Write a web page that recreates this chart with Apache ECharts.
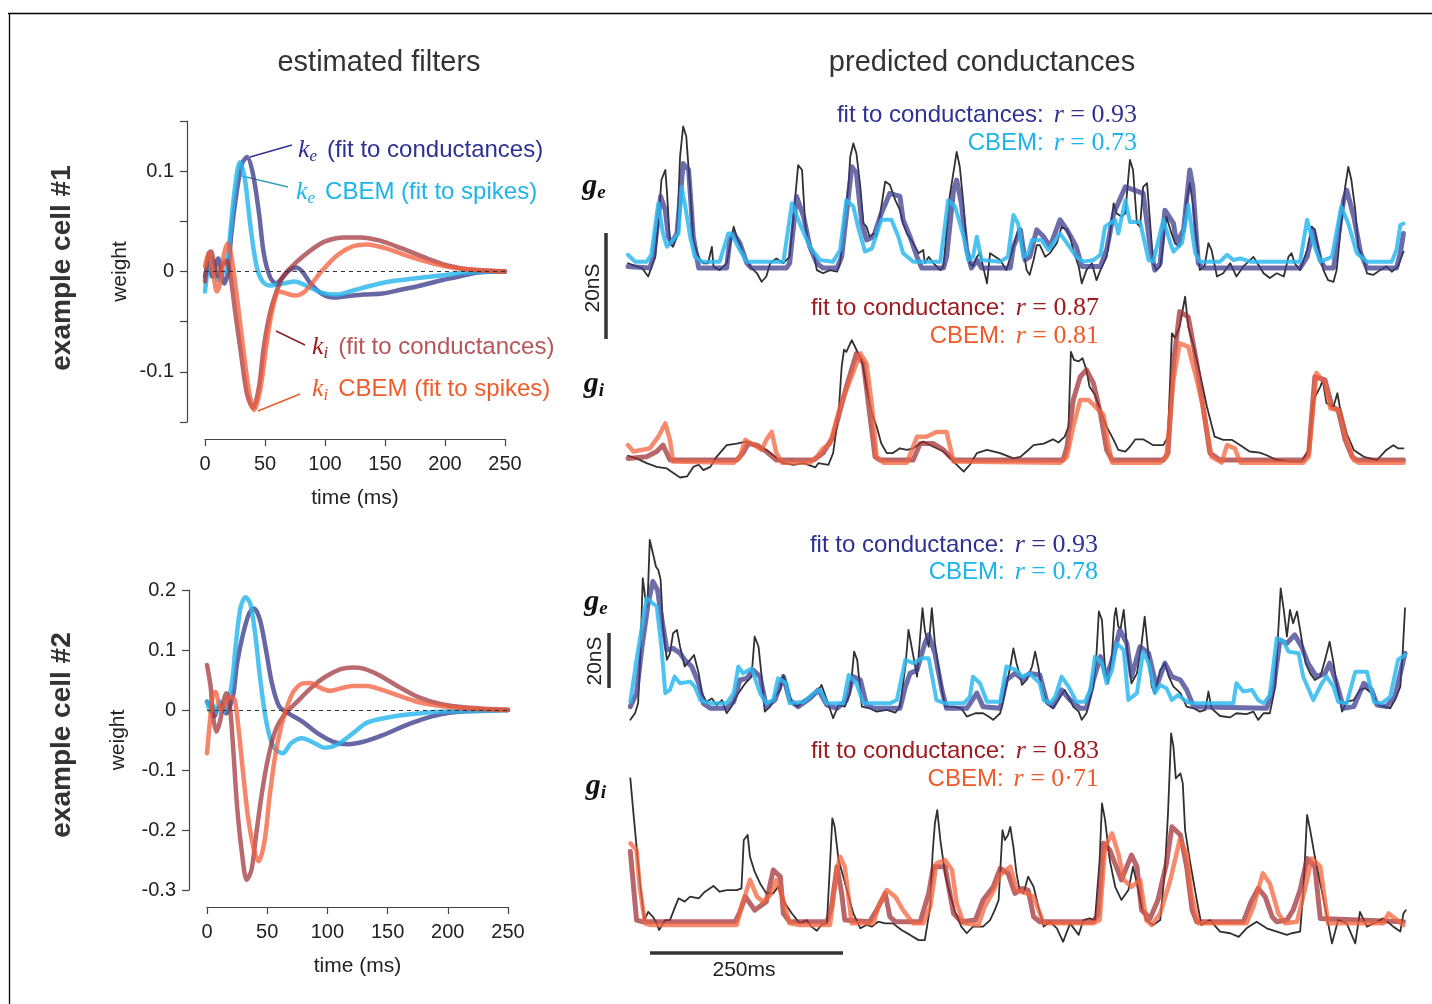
<!DOCTYPE html>
<html>
<head>
<meta charset="utf-8">
<script src="https://cdn.jsdelivr.net/npm/echarts@6/dist/echarts.min.js"></script>
<style>
  html, body { margin: 0; padding: 0; background: #fff; }
  #main { width: 1432px; height: 1004px; }
</style>
</head>
<body>
<div id="main"></div>
<script>
// ---- estimated filters, cell #1 (time ms, weight) ----
var kE1Fit = [[0,-0.005],[3,0.008],[6,-0.005],[11,0.013],[16,-0.012],[19,-0.002],[22,0.038],[27,0.084],[31,0.108],[35,0.114],[40,0.097],[45,0.058],[49,0.018],[54,-0.005],[59,-0.012],[64,-0.007],[70,0.001],[76,0.004],[81,0],[88,-0.012],[97,-0.022],[107,-0.026],[116,-0.025],[132,-0.023],[148,-0.022],[164,-0.018],[180,-0.014],[196,-0.009],[212,-0.005],[228,-0.001],[250,0]];
var kE1Cbem = [[0,-0.020],[3,0.008],[5,0.013],[8,0.001],[11,-0.009],[14,-0.002],[18,0.001],[21,0.038],[25,0.084],[29,0.109],[33,0.094],[38,0.044],[43,0.005],[48,-0.010],[54,-0.014],[65,-0.012],[75,-0.010],[84,-0.014],[97,-0.021],[110,-0.023],[123,-0.019],[139,-0.014],[154,-0.010],[174,-0.007],[196,-0.004],[218,-0.001],[250,0]];
var kI1Fit = [[0,-0.010],[3,0.018],[5,0.020],[8,0.005],[11,-0.005],[14,0.005],[18,0.011],[21,-0.002],[25,-0.039],[30,-0.082],[35,-0.122],[40,-0.136],[45,-0.115],[49,-0.075],[54,-0.042],[59,-0.022],[65,-0.005],[75,0.008],[88,0.021],[100,0.030],[116,0.034],[129,0.034],[145,0.031],[164,0.023],[183,0.014],[202,0.006],[221,0.002],[250,0]];
var kI1Cbem = [[0,0.005],[3,0.018],[6,0.005],[10,-0.020],[13,-0.009],[16,0.018],[19,0.028],[22,0.015],[27,-0.029],[32,-0.078],[37,-0.122],[41,-0.138],[46,-0.118],[51,-0.075],[56,-0.039],[62,-0.020],[68,-0.022],[75,-0.024],[84,-0.019],[97,0],[110,0.016],[123,0.025],[135,0.027],[151,0.023],[170,0.015],[190,0.008],[212,0.003],[250,0]];

// ---- estimated filters, cell #2 ----
var kE2Fit = [[0,0.014],[3,0.006],[6,-0.011],[10,0.006],[13,0.006],[16,-0.006],[19,0.006],[22,0.028],[25,0.078],[30,0.127],[35,0.161],[39,0.169],[44,0.150],[49,0.100],[54,0.044],[60,0.006],[68,-0.006],[79,-0.019],[92,-0.039],[105,-0.053],[117,-0.057],[130,-0.053],[146,-0.042],[162,-0.028],[178,-0.016],[194,-0.007],[209,-0.003],[250,0]];
var kE2Cbem = [[0,0.014],[3,-0.003],[5,0.008],[8,-0.003],[11,0.014],[14,-0.003],[17,0.008],[21,0.050],[24,0.111],[28,0.172],[32,0.188],[36,0.177],[40,0.127],[44,0.055],[49,-0.017],[55,-0.061],[63,-0.072],[70,-0.055],[79,-0.047],[89,-0.055],[98,-0.063],[108,-0.058],[121,-0.039],[133,-0.021],[149,-0.013],[165,-0.008],[184,-0.004],[209,-0.002],[250,0]];
var kI2Fit = [[0,0.075],[3,0.039],[5,-0.011],[8,-0.036],[11,-0.017],[14,0.017],[16,0.028],[19,0.006],[22,-0.072],[25,-0.161],[29,-0.238],[33,-0.283],[37,-0.266],[41,-0.205],[46,-0.133],[51,-0.078],[57,-0.033],[65,-0.006],[75,0.014],[86,0.036],[98,0.055],[111,0.068],[121,0.071],[130,0.069],[143,0.058],[159,0.039],[175,0.022],[194,0.010],[216,0.004],[250,0]];
var kI2Cbem = [[0,-0.072],[2,-0.028],[5,0.028],[7,0.030],[10,0.008],[12,0],[16,0.014],[19,0.022],[23,0.017],[26,-0.028],[30,-0.105],[34,-0.177],[39,-0.233],[43,-0.252],[48,-0.216],[52,-0.144],[57,-0.072],[63,-0.017],[71,0.028],[79,0.044],[86,0.045],[92,0.039],[102,0.032],[111,0.036],[121,0.040],[133,0.040],[146,0.033],[162,0.022],[178,0.012],[197,0.006],[219,0.002],[250,0]];

// ---- predicted conductances, cell #1 (time ms, nS) ----
var ge1Rec = [[0,0.9],[11,0.3],[18,0],[26,-1.6],[35,2.1],[39,8.4],[43,16.6],[48,18.5],[50,14.7],[54,4.7],[58,4.0],[63,5.9],[67,21.0],[71,26.7],[75,24.8],[80,14.7],[84,5.3],[88,3.4],[93,1.5],[97,0.9],[103,0.9],[108,4.0],[110,0.3],[118,-0.4],[127,0.9],[136,7.8],[140,5.9],[148,2.8],[157,0.3],[166,-1.0],[172,-2.6],[178,-1.6],[183,0.9],[191,1.8],[200,0.9],[208,2.1],[213,9.7],[219,19.4],[224,18.5],[228,8.4],[232,4.7],[239,2.8],[243,-0.4],[251,-1.0],[260,-0.4],[269,-0.7],[273,0.9],[277,6.5],[284,16.0],[286,21.0],[290,23.5],[294,21.6],[299,15.3],[303,8.4],[307,7.8],[311,5.9],[316,6.5],[320,5.9],[326,11.6],[331,16.3],[337,15.7],[344,12.8],[350,10.9],[354,8.4],[359,6.5],[367,4.7],[374,2.8],[380,3.4],[382,0.9],[387,2.1],[393,0.9],[402,-0.4],[406,0.3],[414,13.5],[423,21.9],[427,19.1],[432,11.6],[436,4.0],[440,0.9],[444,0.3],[449,2.1],[453,2.8],[462,-2.9],[466,2.8],[479,1.5],[487,-0.4],[496,4.0],[502,7.2],[507,5.3],[513,-0.4],[517,-1.3],[522,1.5],[526,4.3],[530,4.3],[537,2.1],[543,2.8],[552,4.7],[558,7.8],[565,7.2],[569,5.9],[573,3.4],[580,0.3],[584,-2.9],[590,-0.4],[597,0.9],[603,-2.3],[608,-0.4],[616,2.1],[620,5.9],[625,12.2],[629,10.3],[635,9.7],[640,10.3],[644,17.2],[646,20.4],[650,18.5],[655,8.4],[659,7.8],[663,15.3],[668,16.0],[672,8.4],[676,0.9],[680,-0.4],[685,0.3],[689,4.7],[693,9.7],[698,7.2],[704,4.7],[710,4.0],[715,7.2],[719,12.8],[723,16.0],[727,12.2],[732,4.7],[736,-0.4],[742,0.3],[747,4.7],[751,3.4],[758,-1.6],[766,-1.0],[775,0.9],[783,-1.6],[792,0.3],[805,2.1],[818,-1.0],[826,-1.9],[835,-1.0],[844,-1.6],[850,2.1],[854,2.8],[858,0.9],[865,-0.4],[874,3.4],[880,7.8],[884,7.2],[889,3.4],[895,-0.4],[901,-2.3],[908,-2.6],[912,-0.4],[918,8.4],[923,15.3],[927,19.1],[931,16.6],[936,10.9],[940,4.0],[947,1.5],[951,-1.0],[959,-1.3],[968,-0.4],[976,0.3],[983,-0.7],[991,0.3],[998,3.1]];
var ge1Fit = [[0,0.3],[28,0],[33,2.1],[42,13.5],[48,10.9],[52,5.9],[56,4.7],[63,6.5],[71,19.7],[78,18.5],[84,5.9],[91,0],[127,0],[131,5.3],[136,6.5],[144,4.7],[153,0.9],[159,0],[204,0],[208,0.9],[217,13.5],[226,9.7],[234,4.0],[243,0.9],[251,0],[269,0],[275,2.1],[288,19.1],[294,17.9],[301,8.4],[307,5.3],[316,5.9],[326,10.3],[337,14.1],[350,13.5],[354,9.1],[363,5.9],[372,2.1],[378,0],[406,0],[410,2.1],[419,14.7],[423,16.6],[429,12.2],[436,3.4],[442,0],[449,1.5],[455,0],[492,0],[496,4.0],[505,7.2],[511,1.5],[517,2.1],[526,7.2],[535,5.9],[543,4.0],[556,9.1],[565,7.2],[577,4.0],[584,0.3],[608,0.3],[616,3.4],[625,10.3],[640,15.3],[663,14.1],[672,4.0],[678,-0.4],[685,0.9],[691,10.9],[702,8.4],[706,4.7],[715,7.2],[723,18.5],[727,15.3],[734,0.9],[740,0],[865,0],[874,2.1],[882,7.2],[891,1.5],[897,0],[908,0],[921,12.8],[925,14.7],[934,9.7],[943,2.8],[951,0],[989,0],[994,2.8],[998,6.5]];
var ge1Cbem = [[0,2.5],[9,1.2],[24,1.2],[30,2.5],[39,12.2],[45,6.5],[50,4.0],[58,5.3],[65,6.5],[69,15.3],[73,12.2],[80,5.9],[86,2.1],[95,1.2],[118,1.2],[129,6.5],[133,6.5],[144,3.4],[153,1.2],[200,1.2],[211,12.2],[221,8.4],[234,4.0],[247,1.5],[264,1.2],[273,3.4],[281,12.8],[290,11.6],[296,7.8],[305,3.1],[314,3.7],[326,9.1],[339,9.1],[348,5.9],[354,2.8],[367,1.2],[402,1.2],[412,12.8],[421,11.6],[432,5.9],[438,1.5],[444,2.1],[449,5.9],[455,1.5],[479,1.2],[489,2.1],[496,10.0],[502,8.4],[509,2.1],[515,2.8],[520,5.3],[532,5.3],[541,3.4],[556,6.5],[565,4.7],[577,2.1],[586,1.2],[599,1.5],[608,2.5],[614,7.8],[627,9.1],[631,6.5],[640,12.8],[646,8.7],[659,8.7],[670,1.5],[676,1.2],[689,9.1],[698,4.7],[702,3.1],[713,4.7],[721,11.9],[730,2.8],[736,1.2],[762,1.2],[771,2.5],[779,1.5],[788,1.8],[801,1.2],[865,1.2],[874,9.1],[882,4.7],[891,1.2],[906,2.1],[918,11.6],[927,8.4],[938,2.8],[951,1.2],[983,1.2],[989,3.4],[994,8.1],[998,8.4]];
var gi1Rec = [[0,0.8],[11,0.3],[24,-0.6],[37,-1.3],[50,-1.6],[56,-2.2],[67,-3.3],[76,-3.1],[84,-1.3],[91,-0.9],[97,-1.9],[106,-1.3],[114,0.6],[127,2.8],[140,3.1],[153,3.5],[166,2.5],[178,1.9],[187,0.9],[200,-0.6],[213,-0.9],[226,-0.6],[241,-1.4],[245,-0.6],[258,-0.9],[264,1.3],[271,8.8],[275,17.6],[278,20.8],[281,20.4],[288,22.6],[294,20.8],[301,18.9],[307,13.8],[314,8.8],[320,6.3],[326,3.1],[333,1.3],[341,1.3],[350,2.2],[359,1.9],[367,2.2],[380,3.5],[393,2.5],[406,1.6],[419,-0.3],[432,-2.2],[440,-0.9],[449,1.3],[462,1.9],[479,1.3],[496,0.3],[505,0.6],[513,1.6],[522,2.8],[535,3.1],[547,3.9],[554,3.3],[562,4.4],[567,6.3],[570,20.4],[574,18.9],[580,18.6],[585,19.2],[590,17.0],[594,13.8],[601,12.3],[608,9.4],[616,6.3],[625,3.8],[631,1.9],[640,1.6],[646,2.5],[653,3.9],[663,3.9],[676,2.8],[689,2.8],[695,4.4],[700,23.9],[704,23.0],[710,25.2],[717,30.8],[721,25.2],[728,21.4],[736,16.4],[745,10.1],[755,4.4],[766,3.8],[777,3.8],[788,2.8],[800,1.6],[813,1.4],[822,0.9],[835,0],[853,-0.3],[867,-0.3],[876,1.9],[882,11.3],[891,13.8],[894,15.1],[899,10.7],[908,10.1],[913,12.6],[916,10.1],[925,5.0],[934,1.9],[947,0.6],[964,0],[976,1.9],[985,2.8],[991,2.2],[998,2.2]];
var gi1Fit = [[0,0.3],[24,0.6],[37,1.6],[45,2.8],[54,0],[140,0],[148,1.3],[155,3.1],[166,2.8],[178,1.6],[191,0],[239,0],[251,1.3],[264,4.4],[281,13.8],[294,20.1],[303,18.2],[311,8.8],[318,0.6],[324,0],[367,0],[376,3.1],[393,3.1],[406,1.9],[419,0],[560,0],[565,2.5],[573,11.3],[582,15.7],[590,17.0],[599,14.5],[608,8.8],[616,1.9],[623,0],[689,0],[695,1.3],[702,18.2],[710,28.0],[721,27.0],[732,18.2],[740,10.1],[749,1.3],[762,0],[869,0],[876,1.3],[884,15.7],[897,15.1],[906,10.1],[914,9.4],[923,3.8],[932,0.6],[938,0],[998,0]];
var gi1Cbem = [[0,2.8],[7,1.6],[28,2.2],[39,4.4],[48,6.9],[54,3.8],[58,-0.3],[136,-0.5],[144,0.6],[151,3.8],[159,3.1],[172,1.9],[178,3.8],[185,5.3],[191,1.3],[198,-0.5],[234,-0.5],[243,0.6],[251,2.2],[260,3.1],[273,10.1],[286,15.1],[299,20.1],[307,18.2],[314,10.1],[320,0.6],[329,-0.5],[359,-0.5],[372,4.4],[384,4.4],[397,5.3],[410,5.3],[419,-0.3],[556,-0.5],[565,0.6],[573,6.3],[582,11.3],[593,11.3],[612,8.5],[618,3.1],[623,-0.5],[685,-0.5],[693,0.6],[702,15.1],[710,22.0],[721,21.4],[732,15.1],[740,10.1],[751,0.6],[764,-0.5],[771,2.8],[781,2.2],[788,-0.5],[869,-0.5],[876,0.6],[886,16.4],[897,14.5],[904,9.7],[916,9.4],[925,3.8],[934,0],[940,-0.5],[998,-0.5]];

// ---- predicted conductances, cell #2 ----
var ge2Rec = [[3,-4.2],[9,-1.8],[13,1.8],[16,20.0],[19,47.3],[22,40.6],[25,37.0],[28,61.2],[33,55.2],[36,51.5],[39,50.3],[42,46.7],[45,29.7],[50,17.6],[54,20.0],[58,27.3],[63,28.5],[67,22.4],[73,15.2],[80,17.6],[85,19.4],[91,12.7],[95,5.5],[101,2.4],[108,3.6],[114,1.2],[121,3.0],[127,-1.8],[133,0.6],[142,5.5],[151,9.1],[159,11.5],[163,26.1],[168,22.4],[172,11.5],[176,-1.2],[183,0.6],[189,4.2],[196,6.7],[200,12.1],[204,9.1],[211,1.8],[219,0.6],[226,3.0],[234,4.2],[243,5.5],[249,8.5],[256,3.0],[264,-3.6],[271,1.2],[279,0.6],[286,5.5],[291,20.6],[295,17.6],[301,0.6],[311,0],[320,-1.2],[333,-0.6],[344,-1.6],[350,0.6],[357,15.2],[361,28.5],[365,22.4],[372,11.5],[376,26.1],[379,36.4],[382,28.5],[387,22.4],[391,36.4],[395,23.6],[402,10.3],[408,0.6],[419,0.6],[429,0],[436,-3.0],[447,-1.8],[457,-1.8],[464,-3.0],[470,-4.2],[479,-1.8],[485,5.5],[492,15.2],[496,21.8],[500,16.4],[505,11.5],[507,8.5],[513,10.3],[520,15.2],[524,20.6],[528,15.2],[532,7.9],[539,1.8],[547,0],[554,3.0],[562,6.7],[567,4.2],[573,0.6],[580,-1.2],[584,-4.2],[590,-1.8],[599,7.9],[603,20.0],[606,35.2],[610,32.1],[614,13.9],[618,9.1],[623,20.0],[626,33.3],[628,36.4],[631,29.7],[634,29.1],[638,35.8],[643,20.0],[648,9.1],[655,12.7],[661,23.6],[665,33.3],[668,24.8],[674,7.9],[678,5.5],[685,13.9],[691,16.4],[696,11.5],[702,7.9],[711,5.5],[719,0.6],[728,0],[736,-1.2],[743,-0.6],[747,6.1],[751,0],[762,-2.8],[775,-3.3],[783,-1.8],[796,-2.1],[805,-1.2],[811,-4.2],[818,-1.8],[826,-1.8],[833,7.9],[837,28.5],[840,43.6],[844,35.8],[848,26.1],[852,35.8],[856,30.9],[861,35.2],[865,28.5],[872,16.4],[878,12.7],[884,10.3],[891,11.5],[897,17.6],[903,24.2],[908,16.4],[912,9.1],[919,-1.2],[925,2.4],[934,3.0],[942,6.7],[949,7.3],[957,5.5],[966,1.2],[974,0.6],[981,0],[987,3.0],[994,7.9],[997,20.0],[1000,36.4]];
var ge2Fit = [[3,0.6],[11,5.5],[18,22.4],[26,38.2],[32,46.1],[38,43.0],[43,33.3],[50,21.2],[58,21.8],[67,20.0],[73,17.6],[82,15.2],[91,9.1],[97,1.8],[106,0],[127,0],[136,2.4],[144,10.3],[153,10.9],[161,13.9],[170,11.5],[178,0.6],[189,3.0],[200,11.5],[208,3.0],[219,0.6],[234,3.6],[245,6.7],[256,1.2],[269,0],[281,3.0],[290,11.5],[299,10.3],[307,1.2],[316,0],[350,0],[357,7.9],[363,12.7],[372,13.9],[382,23.6],[387,26.7],[395,20.0],[404,6.7],[410,0],[436,0],[449,5.5],[457,0.6],[479,0],[487,10.3],[498,12.7],[509,10.3],[517,12.7],[530,12.1],[539,2.4],[547,0.6],[558,6.7],[569,3.0],[582,0],[590,0],[599,10.3],[608,18.8],[616,11.5],[623,17.6],[633,28.5],[642,23.6],[648,11.5],[659,22.4],[670,20.0],[680,7.9],[691,16.4],[700,11.5],[711,10.3],[719,6.7],[728,0.6],[822,0],[831,7.9],[839,24.8],[848,23.6],[858,26.7],[867,22.4],[875,16.4],[886,11.5],[897,12.7],[903,16.4],[912,9.1],[921,0],[934,0.6],[947,9.1],[957,6.7],[964,1.2],[976,0.6],[987,4.2],[994,12.7],[1000,20.0]];
var ge2Cbem = [[3,2.4],[11,17.6],[20,33.3],[24,40.0],[37,37.0],[43,22.4],[48,5.5],[54,6.7],[60,11.5],[67,9.1],[80,9.7],[86,7.9],[93,3.0],[106,1.8],[127,1.8],[136,5.5],[142,15.2],[148,12.7],[159,14.5],[170,5.5],[178,1.8],[187,3.0],[193,10.9],[204,9.1],[208,1.8],[226,2.4],[239,5.5],[247,6.7],[256,1.8],[277,1.8],[284,12.1],[294,9.1],[303,1.8],[337,1.8],[346,3.0],[357,17.6],[367,16.4],[378,18.2],[387,18.2],[397,3.0],[408,1.8],[432,1.8],[440,4.2],[444,11.5],[453,9.1],[462,2.4],[479,2.4],[487,15.2],[500,13.9],[507,11.5],[517,12.7],[530,9.1],[535,3.0],[543,1.8],[550,4.2],[558,11.5],[567,7.9],[577,2.4],[588,2.4],[595,6.7],[601,18.8],[610,16.4],[616,9.1],[623,13.9],[629,23.6],[638,21.2],[644,3.0],[655,5.5],[663,20.6],[670,16.4],[678,5.5],[685,8.5],[693,7.3],[700,3.0],[708,4.8],[719,2.4],[728,1.8],[779,1.8],[783,9.1],[792,6.1],[803,6.7],[811,3.0],[818,1.8],[826,4.8],[835,25.5],[844,24.2],[850,20.6],[863,20.0],[869,11.5],[882,3.0],[893,9.1],[899,11.5],[908,7.9],[914,2.4],[925,1.8],[936,13.3],[951,13.3],[960,2.4],[970,1.8],[981,4.2],[991,17.6],[1000,19.4]];
var gi2Rec = [[3,52.1],[7,39.4],[11,27.3],[16,12.7],[21,0.6],[26,3.6],[32,1.8],[36,0],[40,-3.0],[48,0.6],[54,0.6],[59,4.2],[65,8.5],[73,7.3],[80,9.1],[91,8.5],[99,10.9],[110,13.0],[118,10.9],[127,11.5],[140,11.5],[146,12.1],[149,29.7],[154,31.5],[157,23.6],[163,18.2],[170,13.9],[178,10.3],[187,10.3],[193,12.7],[202,6.7],[211,3.0],[221,-0.6],[230,0.6],[236,-1.8],[243,-3.3],[249,-1.2],[256,-0.6],[260,21.2],[263,37.6],[266,34.5],[271,22.4],[277,16.4],[284,9.1],[290,3.0],[299,-2.4],[307,-1.2],[314,-1.8],[322,0],[331,-0.6],[341,-0.6],[352,-3.0],[363,-4.8],[374,-6.7],[382,-6.7],[389,5.5],[392,24.8],[395,35.8],[398,40.6],[402,29.7],[408,17.6],[414,10.3],[421,3.6],[429,-1.8],[436,-4.2],[444,-1.8],[457,-1.8],[466,0.6],[472,4.2],[477,7.9],[482,33.3],[485,29.7],[489,31.5],[492,34.5],[496,27.3],[500,17.6],[504,11.5],[509,10.3],[515,16.4],[522,12.7],[528,5.5],[535,-1.8],[543,0],[552,-2.4],[560,-7.3],[569,-0.6],[580,-4.8],[586,0.6],[594,1.2],[601,0.6],[607,22.4],[610,43.0],[614,37.0],[620,22.4],[627,12.7],[635,7.9],[644,11.5],[650,20.0],[655,13.9],[661,5.5],[667,0.6],[676,-1.2],[685,0.6],[691,18.8],[695,39.4],[699,68.5],[702,63.6],[705,52.1],[711,53.9],[714,50.3],[717,33.3],[723,22.4],[732,7.9],[738,-1.2],[749,0.6],[762,-3.6],[775,-4.2],[786,-5.5],[796,-2.4],[809,0],[822,-2.4],[835,-3.6],[848,-4.8],[854,-4.2],[865,-3.6],[869,10.3],[874,38.8],[878,33.3],[884,23.6],[891,13.9],[897,5.5],[906,-7.9],[914,0.6],[925,-0.6],[936,-7.9],[942,3.6],[951,-1.8],[964,0],[972,1.2],[985,-1.8],[994,-3.6],[998,3.0],[1001,4.2]];
var gi2Fit = [[3,25.5],[11,0.6],[18,0],[138,0],[144,3.6],[151,9.1],[163,4.2],[178,7.3],[187,18.8],[196,16.4],[200,3.0],[208,0],[256,0],[262,5.5],[269,20.0],[275,10.3],[279,0.6],[311,0],[320,4.2],[331,10.3],[337,1.8],[344,0],[376,0],[387,10.3],[393,20.0],[408,20.0],[419,3.0],[429,0],[447,0.6],[457,7.9],[470,12.7],[479,19.4],[489,17.6],[498,10.3],[507,12.1],[515,11.5],[522,1.8],[530,0],[599,0],[605,3.0],[612,28.5],[620,26.1],[635,15.2],[648,24.2],[655,20.0],[661,4.2],[672,1.2],[682,7.9],[693,21.2],[700,34.5],[711,31.5],[719,20.0],[726,4.2],[732,0],[792,0],[801,6.7],[811,12.1],[820,9.1],[829,1.8],[835,0],[848,0.6],[856,4.2],[865,11.5],[874,23.0],[884,20.0],[891,1.2],[998,0]];
var gi2Cbem = [[3,28.5],[11,26.1],[15,12.7],[22,-0.6],[28,-1.2],[140,-1.2],[146,5.5],[157,15.2],[166,9.1],[174,7.3],[183,9.7],[191,15.2],[200,7.9],[208,-0.6],[221,-1.2],[260,-1.2],[269,18.8],[273,23.6],[279,20.0],[288,-0.6],[316,-0.6],[322,5.5],[333,11.5],[344,9.1],[354,4.2],[367,-0.6],[380,-0.6],[389,5.5],[397,21.2],[408,22.4],[417,18.8],[423,6.7],[432,-0.6],[451,-1.2],[459,5.5],[470,10.9],[479,17.0],[492,20.0],[500,11.5],[513,10.3],[522,9.1],[535,-0.6],[599,-0.6],[607,0.6],[614,27.3],[623,32.1],[631,24.8],[638,15.2],[648,12.7],[659,15.2],[667,0.6],[674,-1.2],[685,3.0],[698,15.2],[710,29.7],[719,24.8],[725,10.3],[734,-0.6],[796,-0.6],[805,5.5],[817,17.6],[826,13.9],[837,3.0],[846,-0.6],[861,0],[871,11.5],[880,23.0],[891,20.0],[901,-0.6],[972,-0.6],[979,3.0],[998,-1.2]];

var corrLabels = ['0.93', '0.73', '0.87', '0.81', '0.93', '0.78', '0.83', '0·71'];

var SANS = 'Liberation Sans, Arial, Helvetica, sans-serif';
var SERIF = 'Liberation Serif, DejaVu Serif, serif';
var C_KE = 'rgba(70,70,145,0.82)';
var C_KEC = 'rgba(40,182,236,0.82)';
var C_KI = 'rgba(158,48,54,0.72)';
var C_KIC = 'rgba(242,92,58,0.75)';

var chart = echarts.init(document.getElementById('main'));

function filterX(g) {
	return {
		gridIndex: g, type: 'value', min: 0, max: 250, interval: 50, offset: 17,
		axisLine: { show: true, onZero: false, lineStyle: { color: '#444', width: 1.2 } },
		axisTick: { show: true, length: 7, lineStyle: { color: '#444', width: 1.2 } },
		axisLabel: { fontSize: 20, color: '#222', margin: 15, fontFamily: SANS },
		splitLine: { show: false },
		name: 'time (ms)', nameLocation: 'middle', nameGap: 49,
		nameTextStyle: { fontSize: 21, color: '#222', fontFamily: SANS }
	};
}
function filterY(g, min, max, step, gap, onlyTenths) {
	return {
		gridIndex: g, type: 'value', min: min, max: max, interval: step, offset: 18,
		axisLine: { show: true, onZero: false, lineStyle: { color: '#444', width: 1.2 } },
		axisTick: { show: true, length: 7, lineStyle: { color: '#444', width: 1.2 } },
		axisLabel: {
			fontSize: 20, color: '#222', margin: 13, fontFamily: SANS,
			formatter: function (v) {
				var r = Math.round(v * 10) / 10;
				if (onlyTenths && Math.abs(v - r) > 1e-6) return '';
				return String(r);
			}
		},
		splitLine: { show: false },
		name: 'weight', nameLocation: 'middle', nameGap: gap, nameRotate: 90,
		nameTextStyle: { fontSize: 21, color: '#222', fontFamily: SANS }
	};
}
function hiddenX(g) {
	return { gridIndex: g, type: 'value', min: 0, max: 1000, show: false };
}
function hiddenY(g, min, max) {
	return { gridIndex: g, type: 'value', min: min, max: max, show: false };
}
function curve(ax, data, color, width, smooth, z) {
	return {
		type: 'line', xAxisIndex: ax, yAxisIndex: ax, data: data,
		showSymbol: false, smooth: smooth, clip: false, z: z || 2,
		lineStyle: { color: color, width: width, join: 'round', cap: 'round' }
	};
}
function zeroLine(s) {
	s.markLine = {
		silent: true, symbol: ['none', 'none'], label: { show: false },
		lineStyle: { color: '#333', width: 1, type: [4, 4] },
		data: [{ yAxis: 0 }]
	};
	return s;
}

// rich text helpers
function kLabel(x, y, sub, txt, color, txtColor) {
	var rich = {
		k: { fontFamily: SERIF, fontStyle: 'italic', fontSize: 26, lineHeight: 30, fill: color, color: color },
		s: { fontFamily: SERIF, fontStyle: 'italic', fontSize: 17, lineHeight: 16, verticalAlign: 'bottom', fill: color, color: color },
		t: { fontFamily: SANS, fontSize: 24, lineHeight: 30, fill: txtColor, color: txtColor }
	};
	return {
		type: 'text', x: x, y: y,
		style: { text: '{k|k}{s|' + sub + '}   {t|' + txt + '}', rich: rich, fill: color,
			align: 'left', verticalAlign: 'middle', textAlign: 'left', textVerticalAlign: 'middle' }
	};
}
function rLabel(x, y, name, val, color) {
	var rich = {
		a: { fontFamily: SANS, fontSize: 24, fill: color, color: color, lineHeight: 28 },
		r: { fontFamily: SERIF, fontStyle: 'italic', fontSize: 26, fill: color, color: color, lineHeight: 28 },
		n: { fontFamily: SERIF, fontSize: 26, fill: color, color: color, lineHeight: 28 }
	};
	return {
		type: 'text', x: x, y: y,
		style: { text: '{a|' + name + '}   {r|r}{n| = ' + val + '}', rich: rich, fill: color,
			align: 'right', verticalAlign: 'middle', textAlign: 'right', textVerticalAlign: 'middle' }
	};
}
function gLabel(x, y, sub) {
	var rich = {
		g: { fontFamily: SERIF, fontStyle: 'italic', fontWeight: 'bold', fontSize: 30, fill: '#111', color: '#111', lineHeight: 34 },
		s: { fontFamily: SERIF, fontStyle: 'italic', fontWeight: 'bold', fontSize: 19, fill: '#111', color: '#111', lineHeight: 18, verticalAlign: 'bottom' }
	};
	return {
		type: 'text', x: x, y: y,
		style: { text: '{g|g}{s|' + sub + '}', rich: rich, align: 'center', verticalAlign: 'middle',
			textAlign: 'center', textVerticalAlign: 'middle' }
	};
}
function plainText(x, y, txt, size, opts) {
	opts = opts || {};
	return {
		type: 'text', x: x, y: y, rotation: opts.rot || 0,
		style: { text: txt, fill: opts.color || '#222', fontSize: size, fontFamily: SANS,
			fontWeight: opts.bold ? 'bold' : 'normal',
			align: 'center', verticalAlign: 'middle', textAlign: 'center', textVerticalAlign: 'middle' }
	};
}
function seg(x1, y1, x2, y2, color, w) {
	return { type: 'line', shape: { x1: x1, y1: y1, x2: x2, y2: y2 }, style: { stroke: color, lineWidth: w } };
}

var option = {
	animation: false,
	backgroundColor: '#fff',
	grid: [
		{ left: 205, top: 121, width: 300, height: 301 },
		{ left: 207, top: 590, width: 301, height: 300 },
		{ left: 628, top: 114.3, width: 777, height: 174.9 },
		{ left: 628, top: 290.4, width: 777, height: 190.8 },
		{ left: 628, top: 532.3, width: 777, height: 192.5 },
		{ left: 628, top: 729.2, width: 777, height: 217.25 }
	],
	xAxis: [filterX(0), filterX(1), hiddenX(2), hiddenX(3), hiddenX(4), hiddenX(5)],
	yAxis: [
		filterY(0, -0.15, 0.15, 0.05, 56, true),
		filterY(1, -0.3, 0.2, 0.1, 60, false),
		hiddenY(2, -4, 29),
		hiddenY(3, -4, 32),
		hiddenY(4, -6, 64),
		hiddenY(5, -9, 70)
	],
	series: [
		zeroLine(curve(0, kE1Fit, C_KE, 4.5, 0.3, 3)),
		curve(0, kE1Cbem, C_KEC, 4.5, 0.3, 3),
		curve(0, kI1Fit, C_KI, 4.5, 0.3, 3),
		curve(0, kI1Cbem, C_KIC, 4.5, 0.3, 3),
		zeroLine(curve(1, kE2Fit, C_KE, 4.5, 0.3, 3)),
		curve(1, kE2Cbem, C_KEC, 4.5, 0.3, 3),
		curve(1, kI2Fit, C_KI, 4.5, 0.3, 3),
		curve(1, kI2Cbem, C_KIC, 4.5, 0.3, 3),

		curve(2, ge1Rec, 'rgba(25,25,25,0.9)', 1.8, false, 2),
		curve(2, ge1Fit, 'rgba(60,60,140,0.75)', 5, false, 3),
		curve(2, ge1Cbem, 'rgba(45,185,238,0.85)', 4, false, 4),
		curve(3, gi1Rec, 'rgba(25,25,25,0.9)', 1.8, false, 2),
		curve(3, gi1Fit, 'rgba(158,45,50,0.72)', 5, false, 3),
		curve(3, gi1Cbem, 'rgba(244,100,62,0.75)', 4.5, false, 4),
		curve(4, ge2Rec, 'rgba(25,25,25,0.9)', 1.8, false, 2),
		curve(4, ge2Fit, 'rgba(60,60,140,0.75)', 5, false, 3),
		curve(4, ge2Cbem, 'rgba(45,185,238,0.85)', 4, false, 4),
		curve(5, gi2Rec, 'rgba(25,25,25,0.9)', 1.8, false, 2),
		curve(5, gi2Fit, 'rgba(158,45,50,0.72)', 5, false, 3),
		curve(5, gi2Cbem, 'rgba(244,100,62,0.75)', 4.5, false, 4)
	],
	graphic: [
		// frame
		seg(8, 13.5, 1432, 13.5, '#000', 1.3),
		seg(9.5, 13, 9.5, 1004, '#000', 1.3),
		// titles
		plainText(379, 63, 'estimated filters', 29, { color: '#333' }),
		plainText(982, 63, 'predicted conductances', 29, { color: '#333' }),
		plainText(62, 268, 'example cell #1', 28, { rot: Math.PI / 2, bold: true, color: '#333' }),
		plainText(62, 735, 'example cell #2', 28, { rot: Math.PI / 2, bold: true, color: '#333' }),
		// filter annotations
		seg(250, 157, 292, 145, '#2e3192', 1.5),
		seg(242, 176, 288, 187, '#3a9fb5', 1.5),
		seg(276, 331, 305, 345, '#8c1d2a', 1.5),
		seg(258, 411, 300, 394, '#f05a28', 1.5),
		kLabel(298, 150, 'e', '(fit to conductances)', '#2e3192', '#2e3192'),
		kLabel(296, 192, 'e', 'CBEM (fit to spikes)', '#1cb4ea', '#1cb4ea'),
		kLabel(312, 347, 'i', '(fit to conductances)', '#9e1b20', '#b5565b'),
		kLabel(312, 389, 'i', 'CBEM (fit to spikes)', '#f15a29', '#f15a29'),
		// correlation labels
		rLabel(1137, 115, 'fit to conductances:', corrLabels[0], '#2e3192'),
		rLabel(1137, 143, 'CBEM:', corrLabels[1], '#1cb4ea'),
		rLabel(1099, 308, 'fit to conductance:', corrLabels[2], '#9e1b20'),
		rLabel(1099, 336, 'CBEM:', corrLabels[3], '#f15a29'),
		rLabel(1098, 545, 'fit to conductance:', corrLabels[4], '#2e3192'),
		rLabel(1098, 572, 'CBEM:', corrLabels[5], '#1cb4ea'),
		rLabel(1099, 751, 'fit to conductance:', corrLabels[6], '#9e1b20'),
		rLabel(1099, 779, 'CBEM:', corrLabels[7], '#f15a29'),
		// g labels
		gLabel(594, 186, 'e'),
		gLabel(594, 384, 'i'),
		gLabel(596, 602, 'e'),
		gLabel(596, 786, 'i'),
		// scale bars
		seg(606, 233, 606, 339, '#333', 3.5),
		plainText(593, 288, '20nS', 21, { rot: Math.PI / 2 }),
		seg(609, 633, 609, 688, '#333', 3.5),
		plainText(595, 661, '20nS', 21, { rot: Math.PI / 2 }),
		seg(650, 953, 843, 953, '#333', 3.5),
		plainText(744, 970, '250ms', 21)
	]
};

chart.setOption(option);
</script>
</body>
</html>
